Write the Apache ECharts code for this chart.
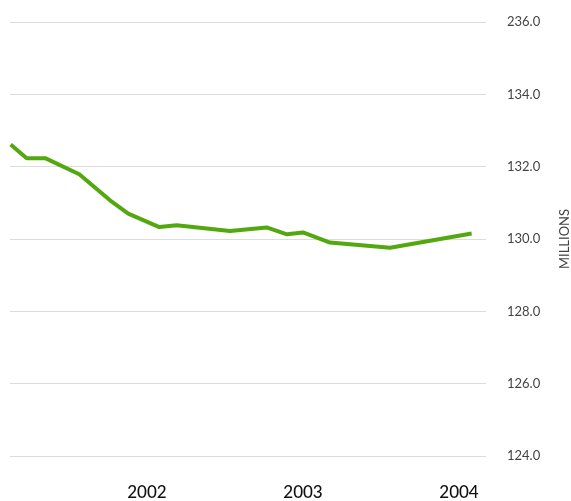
<!DOCTYPE html>
<html>
<head>
<meta charset="utf-8">
<script src="https://cdn.jsdelivr.net/npm/echarts@6/dist/echarts.min.js"></script>
<style>
  html, body { margin: 0; padding: 0; background: #fff; }
  #grafico { width: 571px; height: 501px; }
</style>
</head>
<body>
<div id="grafico"></div>
<script>
// fecha (año decimal) y valor en millones
var fechas = [2001.126, 2001.229, 2001.351, 2001.566, 2001.763, 2001.880, 2002.079, 2002.190,
              2002.532, 2002.767, 2002.897, 2003.000, 2003.173, 2003.558, 2004.081];
var valores = [132.61, 132.23, 132.23, 131.79, 131.07, 130.70, 130.33, 130.38,
               130.22, 130.32, 130.13, 130.18, 129.90, 129.76, 130.15];
var años = [2002, 2003, 2004];
var etiquetas_y = ['124.0', '126.0', '128.0', '130.0', '132.0', '134.0', '236.0'];
var ticks_y = [124, 126, 128, 130, 132, 134, 136];

var puntos = [];
for (var i = 0; i < fechas.length; i++) {
    puntos.push([fechas[i], valores[i]]);
}

var myChart01 = echarts.init(document.getElementById('grafico'));

var option = {
    animation: false,
    grid: { left: 10, right: 85, top: 22, bottom: 45, containLabel: false, outerBoundsMode: 'none' },
    xAxis: {
        type: 'value',
        min: 2001.122,
        max: 2004.173,
        axisLine: { show: false },
        axisTick: { show: false },
        splitLine: { show: false },
        axisLabel: {
            customValues: años,
            margin: 28,
            fontFamily: 'Lato',
            fontSize: 17,
            fontWeight: 500,
            color: '#111',
            formatter: function (v) { return String(Math.round(v)); }
        }
    },
    yAxis: {
        type: 'value',
        position: 'right',
        min: 124,
        max: 136,
        interval: 2,
        axisLine: { show: false },
        axisTick: { show: false },
        splitLine: { lineStyle: { color: '#dcdcdc', width: 1 } },
        axisLabel: {
            margin: 21,
            fontFamily: 'Lato',
            fontSize: 13,
            color: '#444',
            formatter: function (v) {
                var idx = ticks_y.indexOf(v);
                return idx >= 0 ? etiquetas_y[idx] : '';
            }
        },
        name: 'MILLIONS',
        nameLocation: 'middle',
        nameRotate: 90,
        nameGap: 72,
        nameTextStyle: { fontFamily: 'Lato', fontSize: 13, color: '#444' }
    },
    series: [{
        type: 'line',
        data: puntos,
        showSymbol: false,
        lineStyle: { color: '#54a80f', width: 4 },
        itemStyle: { color: '#54a80f' }
    }]
};

myChart01.setOption(option, true);
</script>
</body>
</html>
